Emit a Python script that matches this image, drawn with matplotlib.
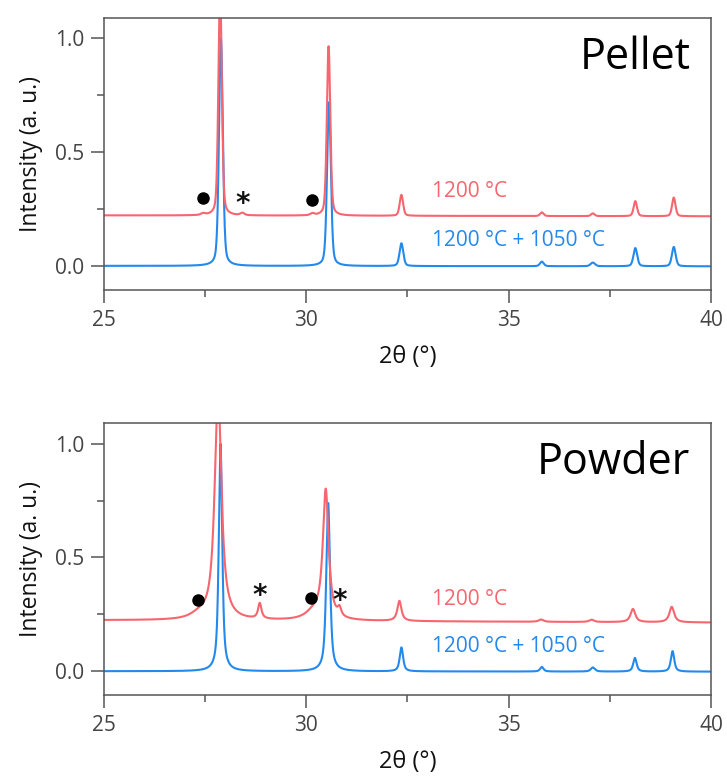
import numpy as np
import matplotlib
matplotlib.use("Agg")
import matplotlib.pyplot as plt
from matplotlib.ticker import MultipleLocator, FormatStrFormatter

plt.rcParams['font.family'] = ['Open Sans', 'DejaVu Sans']

# ---- data ----
two_theta_range = (25.0, 40.0)

# Pellet, 1200 °C (red), offset baseline
pellet_red_base = (0.222, 0.218)
pellet_red_pos = [27.45, 27.87, 28.42, 30.15, 30.55, 32.35, 35.82, 37.08, 38.13, 39.08]
pellet_red_h = [0.007, 1.00, 0.010, 0.008, 0.745, 0.092, 0.016, 0.012, 0.066, 0.082]
pellet_red_w = [0.06, 0.05, 0.06, 0.06, 0.05, 0.05, 0.05, 0.05, 0.05, 0.05]
pellet_eta = 0.35

# Pellet, 1200 °C + 1050 °C (blue)
pellet_blue_base = (0.0, -0.002)
pellet_blue_pos = [27.89, 30.56, 32.35, 35.82, 37.08, 38.13, 39.08]
pellet_blue_h = [1.00, 0.72, 0.10, 0.02, 0.016, 0.08, 0.085]
pellet_blue_w = [0.055, 0.055, 0.055, 0.055, 0.065, 0.055, 0.055]

# Powder, 1200 °C (red)
powder_red_base = (0.224, 0.214)
powder_red_pos = [27.35, 27.82, 28.85, 30.2, 30.48, 30.82, 32.30, 35.80, 37.05, 38.07, 39.03]
powder_red_h = [0.02, 1.00, 0.068, 0.035, 0.565, 0.035, 0.088, 0.010, 0.010, 0.058, 0.068]
powder_red_w = [0.25, 0.10, 0.05, 0.25, 0.085, 0.05, 0.06, 0.07, 0.07, 0.07, 0.07]
powder_red_eta = 0.9

# Powder, 1200 °C + 1050 °C (blue)
powder_blue_base = (0.0, -0.002)
powder_blue_pos = [27.88, 30.54, 32.35, 35.82, 37.08, 38.12, 39.05]
powder_blue_h = [1.00, 0.74, 0.105, 0.02, 0.018, 0.06, 0.09]
powder_blue_w = [0.05, 0.055, 0.05, 0.05, 0.06, 0.05, 0.05]
powder_blue_eta = 0.7

# annotation markers
pellet_dots_x = [27.45, 30.15]
pellet_dots_y = [0.30, 0.29]
pellet_star_x = [28.42]
pellet_star_y = [0.27]
powder_dots_x = [27.33, 30.12]
powder_dots_y = [0.315, 0.32]
powder_star_x = [28.85, 30.82]
powder_star_y = [0.33, 0.31]

series_labels = ["1200 °C", "1200 °C + 1050 °C"]
panel_titles = ["Pellet", "Powder"]

red = '#f7656e'
blue = '#2389ec'


def pattern(x, base, pos, h, w, eta):
    y = np.linspace(base[0], base[1], x.size)
    for p, hh, ww in zip(pos, h, w):
        lor = ww**2 / ((x - p)**2 + ww**2)
        gau = np.exp(-np.log(2) * ((x - p) / ww)**2)
        y = y + hh * (eta * lor + (1 - eta) * gau)
    return y


x = np.linspace(two_theta_range[0], two_theta_range[1], 6001)

fig = plt.figure(figsize=(7.27, 7.81), dpi=100)
ax1 = fig.add_axes([0.143, 0.629, 0.835, 0.348])
ax2 = fig.add_axes([0.143, 0.110, 0.835, 0.348])

panels = [
    (ax1, (pellet_red_base, pellet_red_pos, pellet_red_h, pellet_red_w, pellet_eta),
     (pellet_blue_base, pellet_blue_pos, pellet_blue_h, pellet_blue_w, pellet_eta),
     pellet_dots_x, pellet_dots_y, pellet_star_x, pellet_star_y, panel_titles[0],
     (0.325, 0.11)),
    (ax2, (powder_red_base, powder_red_pos, powder_red_h, powder_red_w, powder_red_eta),
     (powder_blue_base, powder_blue_pos, powder_blue_h, powder_blue_w, powder_blue_eta),
     powder_dots_x, powder_dots_y, powder_star_x, powder_star_y, panel_titles[1],
     (0.316, 0.108)),
]

for (ax, rs, bs, dx, dy, sx, sy, title, ly) in panels:
    ax.plot(x, pattern(x, *bs), color=blue, lw=1.5)
    ax.plot(x, pattern(x, *rs), color=red, lw=1.5)
    ax.plot(dx, dy, 'o', color='black', ms=8)
    for xx, yy in zip(sx, sy):
        ax.text(xx, yy, '*', ha='center', va='center', fontsize=20,
                color='#111111', family='DejaVu Sans', fontweight='bold')
    ax.text(33.1, ly[0], series_labels[0], color=red, fontsize=15, va='center')
    ax.text(33.1, ly[1], series_labels[1], color=blue, fontsize=15, va='center')
    ax.text(0.966, 0.935, title, transform=ax.transAxes, ha='right', va='top',
            fontsize=31, color='black')

    ax.set_xlim(*two_theta_range)
    ax.set_ylim(-0.105, 1.09)
    ax.xaxis.set_major_locator(MultipleLocator(5))
    ax.xaxis.set_minor_locator(MultipleLocator(2.5))
    ax.yaxis.set_major_locator(MultipleLocator(0.5))
    ax.yaxis.set_minor_locator(MultipleLocator(0.25))
    ax.yaxis.set_major_formatter(FormatStrFormatter('%.1f'))
    ax.tick_params(which='major', direction='out', length=9.5, width=1.1,
                   color='#555555', labelcolor='#444444', labelsize=15)
    ax.tick_params(which='minor', direction='out', length=5, width=1.1,
                   color='#555555')
    ax.tick_params(axis='x', pad=5)
    ax.tick_params(axis='y', pad=5)
    for s in ax.spines.values():
        s.set_color('#555555')
        s.set_linewidth(1.1)
    ax.set_xlabel('2θ (°)', fontsize=17, color='#111111', labelpad=10)
    ax.set_ylabel('Intensity (a. u.)', fontsize=16.5, color='#111111', labelpad=8)

fig.savefig('out.png', dpi=100)
